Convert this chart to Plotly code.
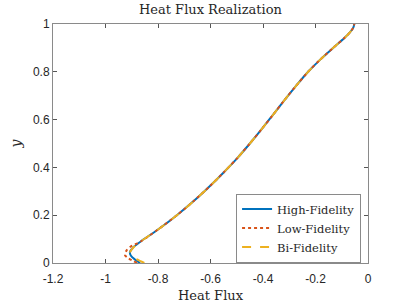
import plotly.graph_objects as go

# Shared upper part of the curves (y, heat flux)
y_upper = [0.090, 0.140, 0.200, 0.260, 0.320, 0.380, 0.440, 0.500, 0.560, 0.620, 0.680,
           0.740, 0.800, 0.850, 0.900, 0.940, 0.970, 0.985, 1.000]
x_upper = [-0.866, -0.800, -0.728, -0.663, -0.604, -0.549, -0.497, -0.450, -0.405, -0.362, -0.319,
           -0.275, -0.228, -0.183, -0.133, -0.091, -0.065, -0.056, -0.052]

# Bottom parts, which differ between the models
hf_y_low = [0.000, 0.015, 0.030, 0.045, 0.065]
hf_x_low = [-0.868, -0.888, -0.903, -0.907, -0.895]
lf_y_low = [0.000, 0.020, 0.033, 0.054, 0.068]
lf_x_low = [-0.880, -0.913, -0.926, -0.919, -0.905]
bf_y_low = [0.000, 0.015, 0.030, 0.045, 0.065]
bf_x_low = [-0.852, -0.880, -0.900, -0.906, -0.894]

x_ticks = [-1.2, -1.0, -0.8, -0.6, -0.4, -0.2, 0.0]
x_ticklabels = ["-1.2", "-1", "-0.8", "-0.6", "-0.4", "-0.2", "0"]
y_ticks = [0, 0.2, 0.4, 0.6, 0.8, 1.0]
y_ticklabels = ["0", "0.2", "0.4", "0.6", "0.8", "1"]

serif = "DejaVu Serif, serif"
sans = "Liberation Sans, Arial, sans-serif"

fig = go.Figure()
fig.add_trace(go.Scatter(x=hf_x_low + x_upper, y=hf_y_low + y_upper, mode="lines",
                         name="High-Fidelity",
                         line=dict(color="#0072BD", width=2, shape="spline", smoothing=0.8)))
fig.add_trace(go.Scatter(x=lf_x_low + x_upper, y=lf_y_low + y_upper, mode="lines",
                         name="Low-Fidelity",
                         line=dict(color="#D95319", width=2, dash="dot", shape="spline", smoothing=0.8)))
fig.add_trace(go.Scatter(x=bf_x_low + x_upper, y=bf_y_low + y_upper, mode="lines",
                         name="Bi-Fidelity",
                         line=dict(color="#EDB120", width=2, dash="dash", shape="spline", smoothing=0.8)))

axis_common = dict(showgrid=False, zeroline=False, showline=True, linecolor="#8a8a8a",
                   linewidth=1, mirror="ticks", ticks="inside", ticklen=4, tickcolor="#555",
                   automargin=False,
                   tickfont=dict(family=sans, size=12, color="#262626"))

fig.update_xaxes(range=[-1.2, 0], tickvals=x_ticks, ticktext=x_ticklabels,
                 ticklabelstandoff=5,
                 title=dict(text="Heat Flux", font=dict(family=serif, size=13, color="#262626"),
                            standoff=5),
                 **axis_common)
fig.update_yaxes(range=[0, 1], tickvals=y_ticks, ticktext=y_ticklabels,
                 title=dict(text="<i>y</i>", font=dict(family=serif, size=14, color="#262626"),
                            standoff=8),
                 **axis_common)

fig.update_layout(
    width=407, height=305,
    margin=dict(l=53, r=39, t=24, b=42),
    paper_bgcolor="white", plot_bgcolor="white",
    title=dict(text="Heat Flux Realization", x=0.517, xanchor="center",
               yref="container", y=0.968, yanchor="middle",
               font=dict(family=serif, size=13, color="#262626")),
    legend=dict(x=0.978, y=0.146, xanchor="right", yanchor="middle",
                bgcolor="white", bordercolor="#8a8a8a", borderwidth=1,
                font=dict(family=serif, size=11.5, color="#262626"),
                tracegroupgap=0, itemwidth=30),
    showlegend=True,
)

fig.write_html("out.html", config={"displayModeBar": False},
               post_script="document.body.style.margin='0px';")
